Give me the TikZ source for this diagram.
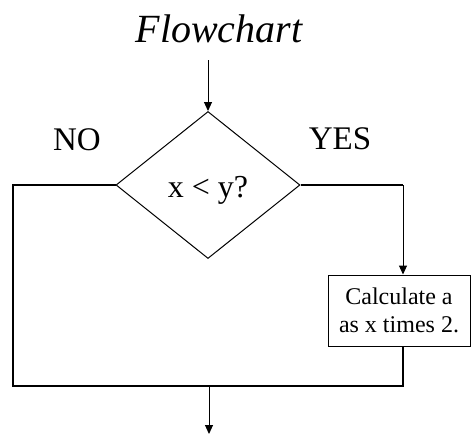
\documentclass[tikz,border=0pt]{standalone}
\usepackage{fontspec}
\setmainfont{Liberation Serif}
\usetikzlibrary{shapes.geometric,arrows.meta}

\begin{document}
\begin{tikzpicture}[
    x=1pt, y=-1pt,
    decision/.style={
        draw,
        diamond,
        line width=1pt,
        inner sep=0pt,
        text height=32pt,
        text depth=7pt,
        minimum width=184pt,
        minimum height=147pt,
        font=\fontsize{32}{36}\selectfont
    },
    process/.style={
        draw,
        rectangle,
        line width=1pt,
        align=center,
        inner sep=0pt,
        minimum width=142pt,
        minimum height=71pt,
        font=\fontsize{24}{28}\selectfont
    },
    answer/.style={
        anchor=base,
        inner sep=0pt,
        font=\fontsize{33}{38}\selectfont
    },
    link/.style={
        line width=1pt,
        -{Triangle[length=9pt,width=8pt]}
    },
    wire/.style={
        line width=2pt
    }
]

\useasboundingbox (0,0) rectangle (472,434);

\node[anchor=base, inner sep=0pt, font=\fontsize{40}{46}\selectfont\itshape] (title) at (219,42) {Flowchart};

\coordinate (start) at (208,60);
\node[decision] (cond) at (208,185) {x < y?};
\node[answer] (no) at (77,150) {NO};
\node[answer] (yes) at (340,149) {YES};
\node[process] (calc) at (399,310.5) {Calculate a\\as x times 2.};

\coordinate (turnleft) at (13,185);
\coordinate (turnright) at (403,185);
\coordinate (bottomleft) at (13,386);
\coordinate (bottomright) at (403,386);
\coordinate (merge) at (209,386);
\coordinate (stop) at (209,434);

\draw[link] (start) -- (cond.north);
\draw[wire] (cond.east) -- (turnright);
\draw[link] (turnright) -- (turnright |- calc.north);
\draw[wire] (cond.west) -- (turnleft) -- (bottomleft) -- (bottomright) -- (bottomright |- calc.south);
\draw[link] (merge) -- (stop);

\end{tikzpicture}
\end{document}
